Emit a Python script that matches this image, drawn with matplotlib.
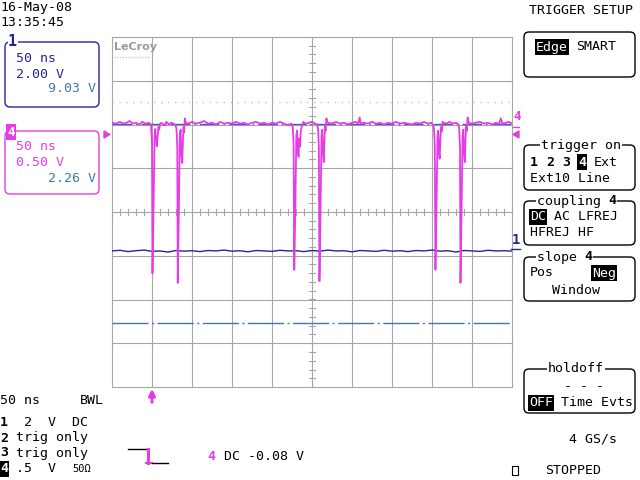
#Scope screen dump: ch1 and ch4 with the trigger setup menu.
import numpy as np
import matplotlib
matplotlib.use("Agg")
import matplotlib.pyplot as plt
from matplotlib.patches import FancyBboxPatch, Rectangle, Polygon

plt.rcParams['font.family'] = ['DejaVu Sans Mono']

#Scope settings
timebase = 50.0   #ns/div
ch1_scale = 2.0   #V/div
ch4_scale = 0.5   #V/div
ch1_pos = -0.82   #ground marker of ch1 (div)
ch4_pos = 1.78    #ground marker of ch4 (div)

#Channel 1, one sample every 10 ns
ch1_t = np.arange(-50, 451, 10)
ch1_v = [-0.14, -0.11, -0.17, -0.13, -0.10, -0.16, -0.14, -0.19, -0.12, -0.15,
         -0.13, -0.17, -0.12, -0.14, -0.10, -0.15, -0.13, -0.18, -0.12, -0.14,
         -0.16, -0.11, -0.14, -0.13, -0.17, -0.12, -0.15, -0.10, -0.14, -0.13,
         -0.18, -0.12, -0.14, -0.16, -0.11, -0.15, -0.13, -0.17, -0.12, -0.14,
         -0.10, -0.15, -0.13, -0.19, -0.12, -0.14, -0.16, -0.11, -0.14, -0.13, -0.15]

#Channel 4 (ns, V)
ch4_t = [-50, -45, -40, -36, -32, -28, -24, -20, -16, -12, -8, -4, -2.5,
         -1.2, 0, 0.6, 2.0, 3.2, 4.0, 5.0, 6.0, 7.0, 8, 9, 10,
         12, 15, 18, 21, 24, 27, 29.5,
         30.6, 31.6, 32.2, 33.6, 34.8, 35.8, 36.8, 37.8, 38.6, 39.4, 40.2, 41, 42,
         45, 50, 55, 60, 65, 70, 75, 80, 85, 90, 95, 100, 105, 110, 115, 120, 125,
         130, 135, 140, 145, 150, 155, 160, 165, 170, 174,
         176, 177, 177.8, 179.2, 180.4, 181.3, 182.2, 183.2, 184.1, 185, 186, 187.5, 189,
         192, 196, 200, 204, 206.5,
         207.6, 208.6, 209.3, 210.7, 211.9, 212.8, 213.8, 214.7, 215.5, 216.2, 217, 218, 219.5,
         225, 230, 235, 240, 245, 250, 255, 258, 259.5, 261, 265, 270, 275, 280, 285,
         290, 295, 300, 305, 310, 315, 320, 325, 330, 335, 340, 345, 349, 351.5,
         352.5, 353.5, 354.3, 355.7, 356.9, 357.8, 358.7, 359.6, 360.5, 361.3, 362.2, 363.2, 365,
         368, 372, 376, 380, 383,
         384, 385, 385.6, 387.0, 388.2, 389.1, 390.1, 391, 391.9, 392.7, 393.5, 394.5, 396,
         400, 405, 410, 415, 420, 425, 430, 434, 436, 438, 442, 446, 450]
ch4_v = [0.13, 0.12, 0.14, 0.12, 0.13, 0.15, 0.12, 0.13, 0.11, 0.14, 0.12, 0.13, 0.12,
         0.09, -0.10, -1.59, -0.80, -0.02, 0.06, -0.05, -0.14, -0.04, 0.08, 0.05, 0.12,
         0.13, 0.10, 0.14, 0.11, 0.13, 0.12, 0.10,
         0.06, -0.15, -1.70, -0.85, 0.00, 0.05, -0.25, -0.33, -0.10, 0.08, 0.02, 0.18, 0.13,
         0.12, 0.14, 0.12, 0.13, 0.15, 0.12, 0.13, 0.11, 0.14, 0.12, 0.13, 0.12, 0.14, 0.12, 0.13, 0.11, 0.13,
         0.14, 0.12, 0.13, 0.11, 0.13, 0.12, 0.14, 0.12, 0.10, 0.12,
         0.08, -0.12, -1.55, -0.80, -0.02, 0.04, -0.18, -0.26, -0.05, -0.14, 0.04, 0.10, 0.14,
         0.12, 0.13, 0.14, 0.12, 0.11,
         0.06, -0.15, -1.68, -0.85, -0.02, 0.05, -0.22, -0.32, -0.08, 0.10, 0.04, 0.18, 0.13,
         0.12, 0.14, 0.12, 0.13, 0.11, 0.13, 0.14, 0.12, 0.19, 0.12, 0.13, 0.12, 0.14, 0.12, 0.13,
         0.11, 0.13, 0.12, 0.14, 0.12, 0.13, 0.12, 0.11, 0.13, 0.12, 0.14, 0.12, 0.13, 0.10,
         0.06, -0.12, -1.55, -0.80, -0.02, 0.04, -0.20, -0.28, -0.06, 0.08, 0.03, 0.14, 0.13,
         0.12, 0.14, 0.12, 0.13, 0.11,
         0.06, -0.15, -1.70, -0.85, -0.02, 0.05, -0.22, -0.32, -0.06, 0.10, 0.04, 0.19, 0.13,
         0.12, 0.13, 0.14, 0.12, 0.13, 0.11, 0.13, 0.12, 0.18, 0.12, 0.13, 0.14, 0.12]

#Cursor / level lines (div)
dotted_level = 2.51
blue_level = 2.01
dashdot_level = -2.54

MAG = '#e63ce6'
BLUE = '#25259a'
STEEL = '#3f78b4'
GRID = '#a6a6a6'

fig = plt.figure(figsize=(6.4, 4.8), dpi=100)
fig.patch.set_facecolor('white')

#Graticule, x in ns, y in divisions
ax = fig.add_axes([112/640, 93/480, 400/640, 350/480])
ax.set_xlim(-50, 450)
ax.set_ylim(-4, 4)
ax.axis('off')
for i in range(11):
    ax.axvline(-50 + timebase*i, color=GRID, lw=0.8, clip_on=False)
for j in range(-4, 5):
    ax.axhline(j, color=GRID, lw=0.8, clip_on=False)
#Small ticks on the centre cross
for yy in np.arange(-4, 4.01, 0.2):
    ax.plot([196.5, 203.5], [yy, yy], color=GRID, lw=0.8)
for tt in np.arange(-50, 451, 10):
    ax.plot([tt, tt], [-0.07, 0.07], color=GRID, lw=0.8)

ax.axhline(dotted_level, color='#c4c4c4', lw=1, ls=(0, (1, 4)))
ax.axhline(blue_level, color='#4a5ad0', lw=1, ls=(0, (14, 3, 1, 3)))
ax.axhline(dashdot_level, color=STEEL, lw=1, ls=(0, (26, 2.5, 1.5, 2.5)))

ax.plot(ch1_t, np.array(ch1_v)/ch1_scale + ch1_pos, color=BLUE, lw=1.0)
ax.plot(ch4_t, np.array(ch4_v)/ch4_scale + ch4_pos, color=MAG, lw=1.3)

ax.text(-48, 3.78, 'LeCroy', family='DejaVu Sans', weight='bold', fontsize=8,
        color='#9a9a9a', va='center', ha='left')
ax.plot([-48, -3], [3.55, 3.55], color='#c8c8c8', lw=1, ls=(0, (1, 1)))

#Overlay in screen pixels for menus and labels
ov = fig.add_axes([0, 0, 1, 1])
ov.set_xlim(0, 640)
ov.set_ylim(480, 0)
ov.axis('off')
ov.patch.set_alpha(0)

fs = 9.5
def t(x, y, s, **kw):
    kw.setdefault('fontsize', fs)
    kw.setdefault('color', 'black')
    ov.text(x, y, s, va='center', ha=kw.pop('ha', 'left'), **kw)

def inv(x, y, s, fc='black', **kw):
    t(x, y, s, color='white', bbox=dict(facecolor=fc, edgecolor='none', pad=0.8), **kw)

def box(x0, y0, x1, y1, ec='black'):
    ov.add_patch(FancyBboxPatch((x0, y0), x1-x0, y1-y0,
                                boxstyle='round,pad=0,rounding_size=5',
                                ec=ec, fc='none', lw=1))

WB = dict(facecolor='white', edgecolor='none', pad=0.5)

t(0, 8, '16-May-08')
t(0, 22, '13:35:45')

#Channel 1 box
box(5, 42, 99, 107, ec=BLUE)
t(8, 42, '1', color=BLUE, weight='bold', fontsize=11,
  bbox=dict(facecolor='white', edgecolor='none', pad=0.3))
t(16, 59, '50 ns', color=BLUE)
t(16, 74, '2.00 V', color=BLUE)
t(96, 89, '9.03 V', color=STEEL, ha='right')

#Channel 4 box
box(5, 131, 99, 194, ec=MAG)
inv(7, 132, '4', fc=MAG, weight='bold', fontsize=9)
t(16, 147, '50 ns', color=MAG)
t(16, 162, '0.50 V', color=MAG)
t(96, 179, '2.26 V', color=STEEL, ha='right')
ov.add_patch(Polygon([[104, 131], [104, 138], [110, 134.5]], color=MAG))

#Markers on the right edge of the graticule
t(513, 116, '4', color=MAG, weight='bold', fontsize=9)
ov.plot([513, 519], [127, 127], color=MAG, lw=1)
ov.add_patch(Polygon([[519, 131], [519, 138], [513, 134.5]], color=MAG))
t(512, 240, '1', color=BLUE, weight='bold', fontsize=10)
ov.plot([511, 520], [249, 249], color=BLUE, lw=1)

#Trigger position arrow
ov.annotate('', xy=(152, 386), xytext=(152, 405),
            arrowprops=dict(arrowstyle='-|>', color=MAG, lw=2.2, mutation_scale=9))

#Right menu
t(529, 11, 'TRIGGER SETUP')
box(524, 32, 635, 77)
inv(536, 47, 'Edge')
t(576, 47, 'SMART')

box(524, 145, 635, 190)
t(541, 145, 'trigger on', bbox=WB)
t(530, 162, '1', weight='bold')
t(546, 162, '2', weight='bold')
t(562, 162, '3', weight='bold')
inv(578, 162, '4', weight='bold')
t(594, 162, 'Ext')
t(530, 178, 'Ext10 Line')

box(524, 201, 635, 245)
t(537, 201, 'coupling ', bbox=WB)
t(608, 201, '4', weight='bold', bbox=WB)
inv(530, 217, 'DC')
t(554, 217, 'AC LFREJ')
t(530, 233, 'HFREJ HF')

box(524, 257, 635, 301)
t(537, 257, 'slope ', bbox=WB)
t(584, 257, '4', weight='bold', bbox=WB)
t(530, 273, 'Pos')
inv(592, 273, 'Neg')
t(552, 290, 'Window')

box(524, 369, 635, 413)
t(548, 369, 'holdoff', bbox=WB)
t(564, 386, '- - -')
inv(529, 403, 'OFF')
t(561, 403, 'Time Evts')

t(569, 439, '4 GS/s')
ov.add_patch(Rectangle((512, 466), 6, 9, fc='none', ec='black', lw=0.8))
t(545, 471, 'STOPPED')

#Bottom-left channel setup
t(0, 400, '50 ns')
t(80, 400, 'BWL')
t(0, 422, '1', weight='bold')
t(24, 422, '2  V  DC')
t(0, 438, '2', weight='bold')
t(16, 438, 'trig only')
t(0, 453, '3', weight='bold')
t(16, 453, 'trig only')
inv(0, 469, '4', weight='bold')
t(16, 469, '.5  V')
t(72, 469, '50Ω', fontsize=7.5)

#Trigger slope symbol
ov.plot([128, 146], [449, 449], color='black', lw=1)
ov.plot([147.5, 147.5], [449, 463], color=MAG, lw=2.2)
ov.plot([146, 152], [463, 463], color=MAG, lw=1.5)
ov.plot([152, 168], [463, 463], color='black', lw=1)
t(207, 456, '4', color=MAG, weight='bold')
t(224, 456, 'DC -0.08 V')

plt.savefig('out.png', dpi=100, facecolor='white')
